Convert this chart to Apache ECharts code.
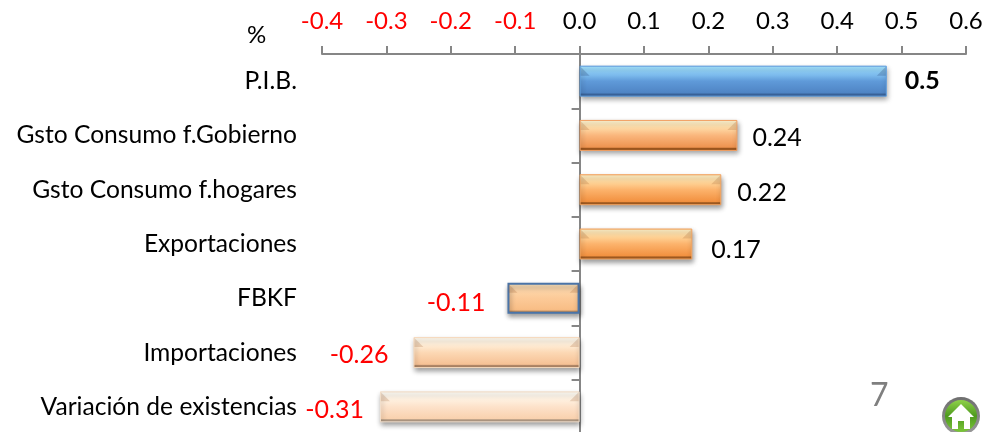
<!DOCTYPE html>
<html><head><meta charset="utf-8">
<style>html,body{margin:0;padding:0;background:#fff}#c{width:986px;height:432px}</style>
<script src="https://cdn.jsdelivr.net/npm/echarts@6/dist/echarts.min.js"></script>
</head><body><div id="c"></div>
<script>
var categories = ["P.I.B.","Gsto Consumo f.Gobierno","Gsto Consumo f.hogares","Exportaciones","FBKF","Importaciones","Variación de existencias"];
var values = [0.477,0.245,0.22,0.175,-0.112,-0.258,-0.31];
var valueLabels = ["0.5","0.24","0.22","0.17","-0.11","-0.26","-0.31"];
var barGradients = [
  ["#5f9fe0","#a2e2ff","#86c6f4","#5f9ad9","#4f84c4","#3a6399"],
  ["#f2a063","#fff2cc","#ffdca8","#fab67c","#ee9350","#9c561e"],
  ["#f4a561","#ffefc4","#ffd79c","#fcb36c","#f29140","#a05a20"],
  ["#f4a561","#ffefc4","#ffd79c","#fcb36c","#f29140","#a05a20"],
  ["#f9c796","#ffe6bf","#fdd5a8","#fcca98","#f8bd85","#c08c5c"],
  ["#f6d9bd","#fffaee","#ffeed8","#fcd8b4","#f6c195","#ad8464"],
  ["#f3dfcb","#fffdf6","#fff2e2","#fde2ca","#f9d1ae","#ad9680"]
];
var labelShift = [[18,0],[15,3],[16,3],[19,6],[-22,5],[-25,2],[-16,3]];
var tickMin = -0.4, tickMax = 0.6, tickStep = 0.1;

var chart = echarts.init(document.getElementById('c'), null, {renderer:'canvas'});
var FONT = 'Lato';

function grad(c){
  return new echarts.graphic.LinearGradient(0,0,0,1,[
    {offset:0,color:c[0]},{offset:0.05,color:c[1]},{offset:0.24,color:c[2]},
    {offset:0.5,color:c[3]},{offset:0.88,color:c[4]},{offset:0.92,color:c[5]},{offset:1,color:c[5]}]);
}
var barData = values.map(function(v,i){
  return {
    value:v,
    itemStyle:{
      color:grad(barGradients[i]),
      borderColor:i===4?'#4a74a8':barGradients[i][0],
      borderWidth:i===4?2:1
    },
    label:{
      show:true,
      formatter:valueLabels[i],
      position:v>=0?'right':'left',
      distance:0,
      offset:labelShift[i],
      color:v>=0?'#000':'#ff0000',
      fontWeight:i===0?'bold':'normal',
      fontFamily:FONT,fontSize:25
    }
  };
});

chart.setOption({
  animation:false,
  backgroundColor:'#fff',
  grid:{left:322,top:54,width:644,height:380,containLabel:false,outerBoundsMode:'none'},
  xAxis:{
    type:'value',position:'top',min:tickMin,max:tickMax,interval:tickStep,
    splitLine:{show:false},
    axisLine:{show:true,onZero:false,lineStyle:{color:'#868686',width:2}},
    axisTick:{show:true,length:8,lineStyle:{color:'#868686',width:2}},
    axisLabel:{
      margin:21,fontFamily:FONT,fontSize:24,showMinLabel:true,showMaxLabel:true,hideOverlap:false,
      formatter:function(v){return v.toFixed(1);},
      color:function(v){return parseFloat(v)<0?'#ff0000':'#000';}
    }
  },
  yAxis:{
    type:'category',inverse:true,data:categories,
    axisLine:{show:true,onZero:true,lineStyle:{color:'#868686',width:2}},
    axisTick:{show:true,length:8,alignWithLabel:false,lineStyle:{color:'#868686',width:2}},
    axisLabel:{margin:25,interval:0,align:'right',color:'#000',fontFamily:FONT,fontSize:24.6}
  },
  series:[
    {type:'bar',data:barData,barWidth:31,z:2,
     itemStyle:{shadowBlur:5,shadowOffsetX:1,shadowOffsetY:3,shadowColor:'rgba(0,0,0,0.4)'}},
    {type:'custom',z:3,silent:true,
     data:values.map(function(v,i){return [v,i];}),
     encode:{x:0,y:1},
     renderItem:function(params,api){
       var a=api.coord([0,api.value(1)]), b=api.coord([api.value(0),api.value(1)]);
       var x0=Math.min(a[0],b[0]), x1=Math.max(a[0],b[0]);
       var y0=a[1]-15.5, d=10;
       var fill=api.value(1)===0?'rgba(20,40,90,0.22)':'rgba(150,80,30,0.2)';
       return {type:'group',children:[
         {type:'polygon',shape:{points:[[x0+1,y0+1],[x0+d,y0+d],[x0+1,y0+d]]},style:{fill:fill}},
         {type:'polygon',shape:{points:[[x1-1,y0+1],[x1-d,y0+d],[x1-1,y0+d]]},style:{fill:fill}}
       ]};
     }}
  ],
  graphic:[
    {type:'text',left:247,top:23,style:{text:'%',fontFamily:FONT,fontSize:24,fill:'#000'}},
    {type:'text',left:870,top:380,style:{text:'7',fontFamily:FONT,fontSize:32,fill:'#7f7f7f'}},
    {type:'group',x:961,y:416,children:[
      {type:'circle',shape:{cx:0,cy:0,r:19},style:{fill:new echarts.graphic.LinearGradient(0,0,0,1,[{offset:0,color:'#6e6e6e'},{offset:1,color:'#9a9a9a'}])}},
      {type:'circle',shape:{cx:0,cy:0,r:16},style:{fill:new echarts.graphic.LinearGradient(0,0,0,1,[{offset:0,color:'#8fd14a'},{offset:0.5,color:'#4e9a1e'},{offset:1,color:'#7cc63a'}])}},
      {type:'polygon',shape:{points:[[0,-12],[13,1],[9,1],[9,13],[3,13],[3,5],[-3,5],[-3,13],[-9,13],[-9,1],[-13,1]]},style:{fill:'#fff'}}
    ]}
  ]
});
</script></body></html>
